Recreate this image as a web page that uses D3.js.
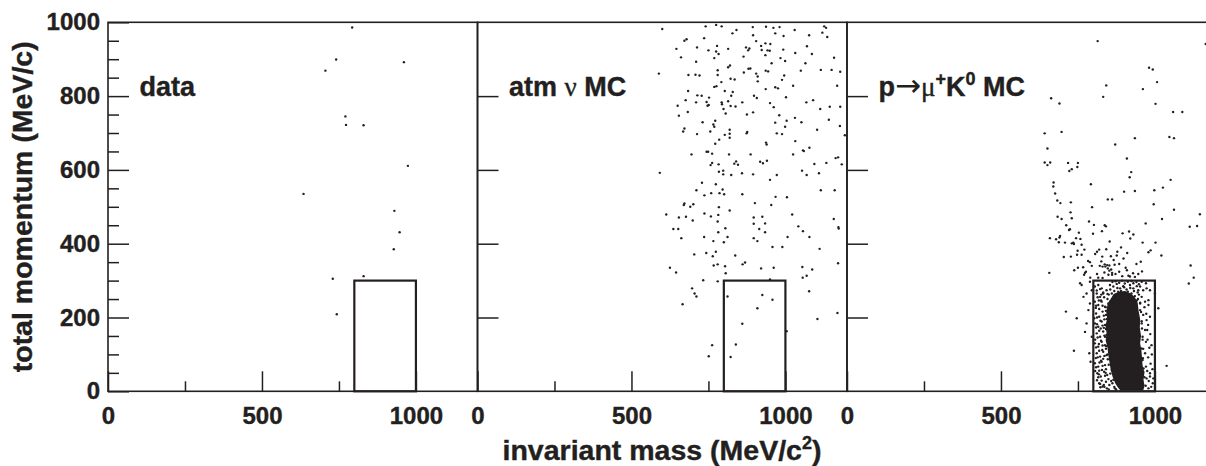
<!DOCTYPE html>
<html>
<head>
<meta charset="utf-8">
<script src="https://cdn.jsdelivr.net/npm/d3@7"></script>
<style>
  body { margin: 0; background: #fff; }
  text { stroke: #231f20; stroke-width: 0.4px; }
</style>
</head>
<body>
<svg id="chart" width="1206" height="466"></svg>
<script>
// [invariant mass (MeV/c^2), total momentum (MeV/c)]
const dataEvents = [
  [793,986],[706,869],[741,899],[961,892],[771,745],[773,722],[830,721],[974,611],
  [635,535],[930,489],[947,431],[928,385],[730,305],[830,312],[743,209]
];

const atmEvents = [
  [600,982],[741,989],[775,993],[793,989],[894,987],[937,988],[961,985],[981,987],[1030,979],[1126,989],[1132,985],[841,979],[828,970],[895,965],[967,970],[994,963],[1077,965],[1120,972],[1136,960],
  [679,954],[672,950],[736,957],[905,949],[935,943],[951,941],[921,936],[883,929],[872,932],[879,924],[923,925],[942,924],[949,923],[993,926],[646,928],[713,932],[750,924],[778,936],[775,921],[783,914],[814,928],[864,907],[935,911],[1070,935],[1032,917],[1086,914],[661,905],[769,903],[984,903],[999,895],[955,889],[1065,889],[1158,904],[710,893],
  [589,861],[685,857],[708,858],[721,856],[780,870],[780,857],[814,878],[820,883],[822,847],[835,845],[865,864],[880,874],[886,875],[905,861],[910,853],[936,869],[944,867],[996,856],[989,844],[1050,869],[1115,871],[1150,871],[1178,866],[1025,828],[1168,828],[792,838],[769,825],[776,827],
  [684,814],[714,802],[728,801],[752,796],[803,814],[829,811],[824,801],[910,840],[936,819],[967,824],[976,821],[676,789],[710,783],[744,784],[747,774],[751,776],[793,783],[794,778],[814,786],[799,765],[838,772],[822,773],[860,783],[898,801],[907,795],[950,781],[962,770],[1002,797],[1068,783],[1090,789],[650,774],[654,747],[683,757],[806,753],[875,750],[895,756],[1113,765],[1144,771],[1178,771],
  [731,729],[772,733],[766,723],[769,717],[672,712],[668,704],[713,697],[756,704],[819,709],[819,698],[803,695],[876,703],[874,699],[967,728],[980,748],[1004,733],[999,717],[1031,741],[1052,729],[972,699],[989,697],[1103,709],[1141,736],[1177,719],[1193,694],[785,682],[772,671],[819,687],
  [937,674],[939,669],[1032,678],[1060,651],[1057,653],[1078,660],[695,642],[744,649],[749,649],[762,644],[817,642],[887,642],[762,619],[757,613],[783,615],[834,617],[840,623],[846,614],[918,622],[927,618],[940,625],[1025,642],[1094,616],[1133,619],[1163,632],[1171,634],[1183,615],
  [592,592],[784,595],[798,598],[798,588],[824,586],[859,591],[895,588],[950,573],[972,586],[1054,598],[1069,586],[1109,591],[729,565],[774,561],[711,545],[737,531],[759,537],[786,537],[796,547],[801,534],[860,534],[968,527],[1005,526],[1115,545],[1160,545],
  [672,509],[670,505],[691,500],[701,507],[784,499],[819,490],[901,510],[954,505],[613,479],[654,471],[677,473],[699,463],[737,482],[758,474],[782,478],[780,460],[897,471],[925,473],[897,454],[934,455],[1022,479],[1157,467],[1172,445],[1173,441],
  [636,440],[652,440],[782,431],[805,442],[915,440],[934,431],[1042,447],[1057,434],[662,415],[736,418],[766,407],[800,404],[812,418],[897,415],[909,407],[1007,418],[1078,418],[958,391],[990,391],[1111,386],
  [704,371],[743,375],[764,366],[774,378],[837,368],[780,344],[767,341],[804,339],[861,344],[869,349],[921,333],[962,335],[1055,337],[1087,330],[1171,347],[625,335],[645,322],[806,320],[1056,308],[1069,313],[733,301],[780,298],[950,303],
  [697,279],[705,265],[711,257],[812,257],[925,261],[958,248],[1077,271],[666,236],[909,225],[860,183],[1104,196],[1169,212],
  [751,95],[762,125],[822,93],[839,127],[1004,163]
];

const pmuEvents = [
  [814,949],[981,877],[993,872],[1007,838],[961,819],[842,829],[832,798],[663,794],[1165,941],
  [690,780],[1002,779],[1059,757],[1089,757],[642,699],[697,703],[935,686],[1047,689],[1062,686],[871,669],[651,658],[909,631],
  [642,620],[651,613],[660,620],[718,619],[750,619],[748,608],[730,602],[722,597],[923,594],[918,580],[1051,573],[671,566],[670,555],[792,561],
  [676,536],[998,545],[1026,552],[900,541],[935,543],[847,520],[861,520],[683,517],[693,510],[727,512],[996,507],[1062,492],[796,499],[726,485],[1146,480],
  [684,473],[697,467],[730,469],[1023,467],[712,450],[786,460],[802,451],[837,450],[841,447],[970,455],[1113,446],[1137,448],[721,437],[724,439],[799,427],[828,434],[753,430],[895,428],[916,433],[930,425],
  [659,415],[679,412],[690,417],[692,421],[744,415],[758,413],[920,414],[853,406],[960,403],[1002,403],[708,403],[730,401],[737,399],[735,403],[762,397],[688,404],
  [771,384],[749,381],[747,370],[762,370],[812,378],[819,384],[857,366],[829,365],[876,368],[878,378],[979,377],[986,382],[1021,368],[727,365],[704,364],[783,353],[789,350],[954,351],[1116,341],
  [869,343],[845,342],[837,344],[852,341],[839,338],[795,340],[821,340],[830,338],[738,328],[750,335],[767,336],[773,321],[776,324],[770,316],[657,321],[790,308],[816,308],[830,307],
  [847,333],[852,327],[861,321],[849,316],[861,316],[909,328],[929,320],[914,313],[919,311],[1126,308],[1110,292],
  [757,293],[762,288],[789,297],[924,299],[957,297],[971,293],
  [711,216],[746,198],[773,161],[737,110],[778,184],[784,220],[789,238],[795,274],[768,256],[778,265],[795,148],[787,103],[791,80],
  [1011,225],[1038,69],[989,125],[975,166],[984,202],[979,247],[984,274],[1000,265],[984,49],[993,22],
  [805,284],[816,288],[827,279],[811,265],[822,256],[832,265],[843,274],[805,243],[816,234],[827,243],[838,229],[809,211],[819,202],[830,216],[841,207],
  [805,184],[816,175],[827,189],[838,180],[811,157],[822,148],[832,162],[843,153],[805,130],[816,121],[827,134],[838,125],[811,103],[822,94],[832,107],[843,98],
  [805,76],[816,67],[827,80],[838,71],[813,49],[824,40],[835,53],[845,44],[819,22],[830,13],[841,26],[852,17],[849,238],[852,193],[854,139],[856,85],[860,58],[865,31],[870,8],
  [811,273],[822,277],[832,268],[814,255],[825,246],[835,255],[846,264],[809,232],[819,223],[830,232],[841,218],[812,200],[823,191],[834,205],[844,196],
  [809,173],[819,164],[830,178],[841,169],[814,146],[825,137],[836,151],[847,142],[809,119],[819,110],[830,124],[841,115],[814,92],[825,83],[836,96],[847,87],
  [809,65],[819,56],[830,69],[841,60],[816,38],[827,29],[838,42],[849,33],[823,11],[834,17],[844,8],
  [952,284],[962,274],[973,279],[957,256],[968,243],[979,234],[952,220],[962,207],[973,193],[957,184],[968,166],[960,148],[971,134],[957,116],[968,103],[960,85],[971,67],[962,53],[973,35],[962,17],[979,8],[952,238],[946,274],[984,40],
  [854,288],[865,284],[876,291],[887,279],[897,285],[908,276],[919,288],[930,279],[941,285],[860,265],[870,256],[881,270],[892,261],[903,267],[914,255],[924,265],[935,258],
  [854,243],[865,238],[876,247],[887,238],[897,246],[908,240],[919,247],[930,238],[941,246],
  [846,250],[840,228],[836,195],[834,172],[838,148],[842,122],[846,100],[850,72],[855,48],[862,22],[868,12],[874,5],
  [826,262],[818,246],[808,226],[803,198],[812,182],[824,170],[806,140],[818,128],[829,112],[808,90],[820,78],[832,88],[806,55],[818,46],[828,58],[840,50],[812,30],[822,20],[836,12],[850,5],[858,28],
  [948,262],[952,240],[955,215],[957,190],[958,170],[960,140],[962,115],[961,90],[963,62],[966,38],[970,15],
  [966,228],[972,210],[978,180],[985,155],[976,140],[982,118],[990,100],[978,92],[986,75],[975,55],[992,60],[980,28],[988,12],[995,35],
  [862,296],[872,298],[884,294],[893,300],[902,292],[912,297],[930,293],[940,296],[948,290],[868,272],[878,280],[890,272],[900,282],[912,270],[920,280],[932,272],[944,268],[855,276],[945,250],[850,262],
  [812,318],[836,322],[858,330],[872,318],[884,324],[894,312],[905,335],[935,310],[946,318],[958,325],[826,352],[866,356],[884,345],[898,360],[940,345],[806,372],[842,385],[890,390],[910,375]
];

// saturated core of the signal MC, where the dots merge into solid black
const pmuCore = [
  [882,270],[866,264],[856,250],[846,236],[842,214],[845,196],[839,178],[843,158],[840,138],[846,118],
  [849,96],[853,76],[857,56],[863,38],[871,22],[880,10],[888,2],[962,2],[966,14],[963,32],[966,50],
  [960,70],[958,92],[956,112],[952,130],[955,150],[951,172],[952,196],[947,218],[944,240],[934,256],[920,266],[902,272]
];

const boxMass = [800, 1000];
const boxMom = [0, 300];
const xTicks = [0, 500, 1000];
const xMinor = [250, 750];
const yTicks = [0, 200, 400, 600, 800, 1000];
const yMinor = [50,100,150,250,300,350,450,500,550,650,700,750,850,900,950];

const ink = "#231f20";
const font = "'Liberation Sans', Arial, Helvetica, sans-serif";
const serif = "'Liberation Serif', 'DejaVu Serif', 'Times New Roman', serif";

const margin = { left: 108, top: 22.3 };
const panelW = 369.5, panelH = 369;

const panels = [
  { name: "data", events: dataEvents, core: null },
  { name: "atm", events: atmEvents, core: null },
  { name: "pmu", events: pmuEvents, core: pmuCore }
];

const svg = d3.select("#chart");
svg.append("rect").attr("width", 1206).attr("height", 466).attr("fill", "#fff");

const y = d3.scaleLinear().domain([0, 1000]).range([margin.top + panelH, margin.top]);

panels.forEach((p, i) => {
  const x0 = margin.left + i * panelW;
  const x = d3.scaleLinear().domain([0, 1200]).range([x0, x0 + panelW]);
  const g = svg.append("g");

  g.append("clipPath").attr("id", `clip${i}`)
    .append("rect").attr("x", x0).attr("y", margin.top).attr("width", panelW).attr("height", panelH);

  const plot = g.append("g").attr("clip-path", `url(#clip${i})`);

  if (p.core) {
    plot.append("path")
      .datum(p.core)
      .attr("d", d3.line().x(d => x(d[0])).y(d => y(d[1])).curve(d3.curveLinearClosed))
      .attr("fill", ink);
  }

  plot.selectAll("circle")
    .data(p.events)
    .join("circle")
    .attr("cx", d => x(d[0]))
    .attr("cy", d => y(d[1]))
    .attr("r", 1.2)
    .attr("fill", ink);

  // signal box
  g.append("rect")
    .attr("x", x(boxMass[0]))
    .attr("y", y(boxMom[1]))
    .attr("width", x(boxMass[1]) - x(boxMass[0]))
    .attr("height", y(boxMom[0]) - y(boxMom[1]))
    .attr("fill", "none")
    .attr("stroke", ink)
    .attr("stroke-width", 2.2);

  // y ticks (labels only on first panel)
  const yAx = g.append("g")
    .attr("transform", `translate(${x0},0)`)
    .call(d3.axisLeft(y)
      .tickValues(i === 0 ? yTicks : yTicks.slice(1, -1))
      .tickSize(-21).tickPadding(8)
      .tickFormat(i === 0 ? d3.format("d") : ""));
  if (i === 0) {
    g.append("g")
      .attr("transform", `translate(${x0},0)`)
      .call(d3.axisLeft(y).tickValues(yMinor).tickSize(-11).tickFormat(""))
      .call(a => a.select(".domain").remove())
      .call(a => a.selectAll("line").attr("stroke", ink).attr("stroke-width", 1.5));
  }

  // x ticks
  const xAx = g.append("g")
    .attr("transform", `translate(0,${y(0)})`)
    .call(d3.axisBottom(x).tickValues(xTicks).tickSize(-20).tickPadding(16).tickFormat(d3.format("d")));
  g.append("g")
    .attr("transform", `translate(0,${y(0)})`)
    .call(d3.axisBottom(x).tickValues(xMinor).tickSize(-10).tickFormat(""))
    .call(a => a.select(".domain").remove())
    .call(a => a.selectAll("line").attr("stroke", ink).attr("stroke-width", 1.5));

  [yAx, xAx].forEach(a => {
    a.select(".domain").remove();
    a.attr("font-size", 24).attr("font-family", font).attr("font-weight", "bold");
    a.selectAll("line").attr("stroke", ink).attr("stroke-width", 1.5);
    a.selectAll("text").attr("fill", ink);
  });

  // panel frame
  g.append("rect")
    .attr("x", x0).attr("y", margin.top)
    .attr("width", panelW).attr("height", panelH)
    .attr("fill", "none").attr("stroke", ink).attr("stroke-width", 1.6);

  // panel label
  const label = g.append("text")
    .attr("x", x0 + 31.5)
    .attr("y", y(800))
    .attr("font-family", font)
    .attr("font-weight", "bold")
    .attr("font-size", 27)
    .attr("fill", ink);

  if (p.name === "data") {
    label.text("data");
  } else if (p.name === "atm") {
    label.append("tspan").text("atm ");
    label.append("tspan").attr("font-family", serif).attr("font-weight", "normal").text("ν");
    label.append("tspan").text(" MC");
  } else {
    label.append("tspan").text("p");
    label.append("tspan").attr("font-family", "'DejaVu Sans', sans-serif").attr("font-weight", "normal")
      .attr("font-size", 31).attr("stroke-width", 0).text("→");
    label.append("tspan").attr("font-family", serif).attr("font-weight", "normal").text("μ");
    label.append("tspan").attr("font-size", 18).attr("dy", -11).text("+");
    label.append("tspan").attr("dy", 11).text("K");
    label.append("tspan").attr("font-size", 18).attr("dy", -11).text("0");
    label.append("tspan").attr("dy", 11).text(" MC");
  }
});

// axis titles
svg.append("text")
  .attr("transform", `translate(32,${margin.top + panelH / 2}) rotate(-90)`)
  .attr("text-anchor", "middle")
  .attr("font-family", font)
  .attr("font-weight", "bold")
  .attr("font-size", 28.5)
  .attr("fill", ink)
  .text("total momentum (MeV/c)");

const xTitle = svg.append("text")
  .attr("x", 662)
  .attr("y", 460)
  .attr("text-anchor", "middle")
  .attr("font-family", font)
  .attr("font-weight", "bold")
  .attr("font-size", 28.5)
  .attr("fill", ink);
xTitle.append("tspan").text("invariant mass (MeV/c");
xTitle.append("tspan").attr("font-size", 18).attr("dy", -11).text("2");
xTitle.append("tspan").attr("dy", 11).text(")");
</script>
</body>
</html>
